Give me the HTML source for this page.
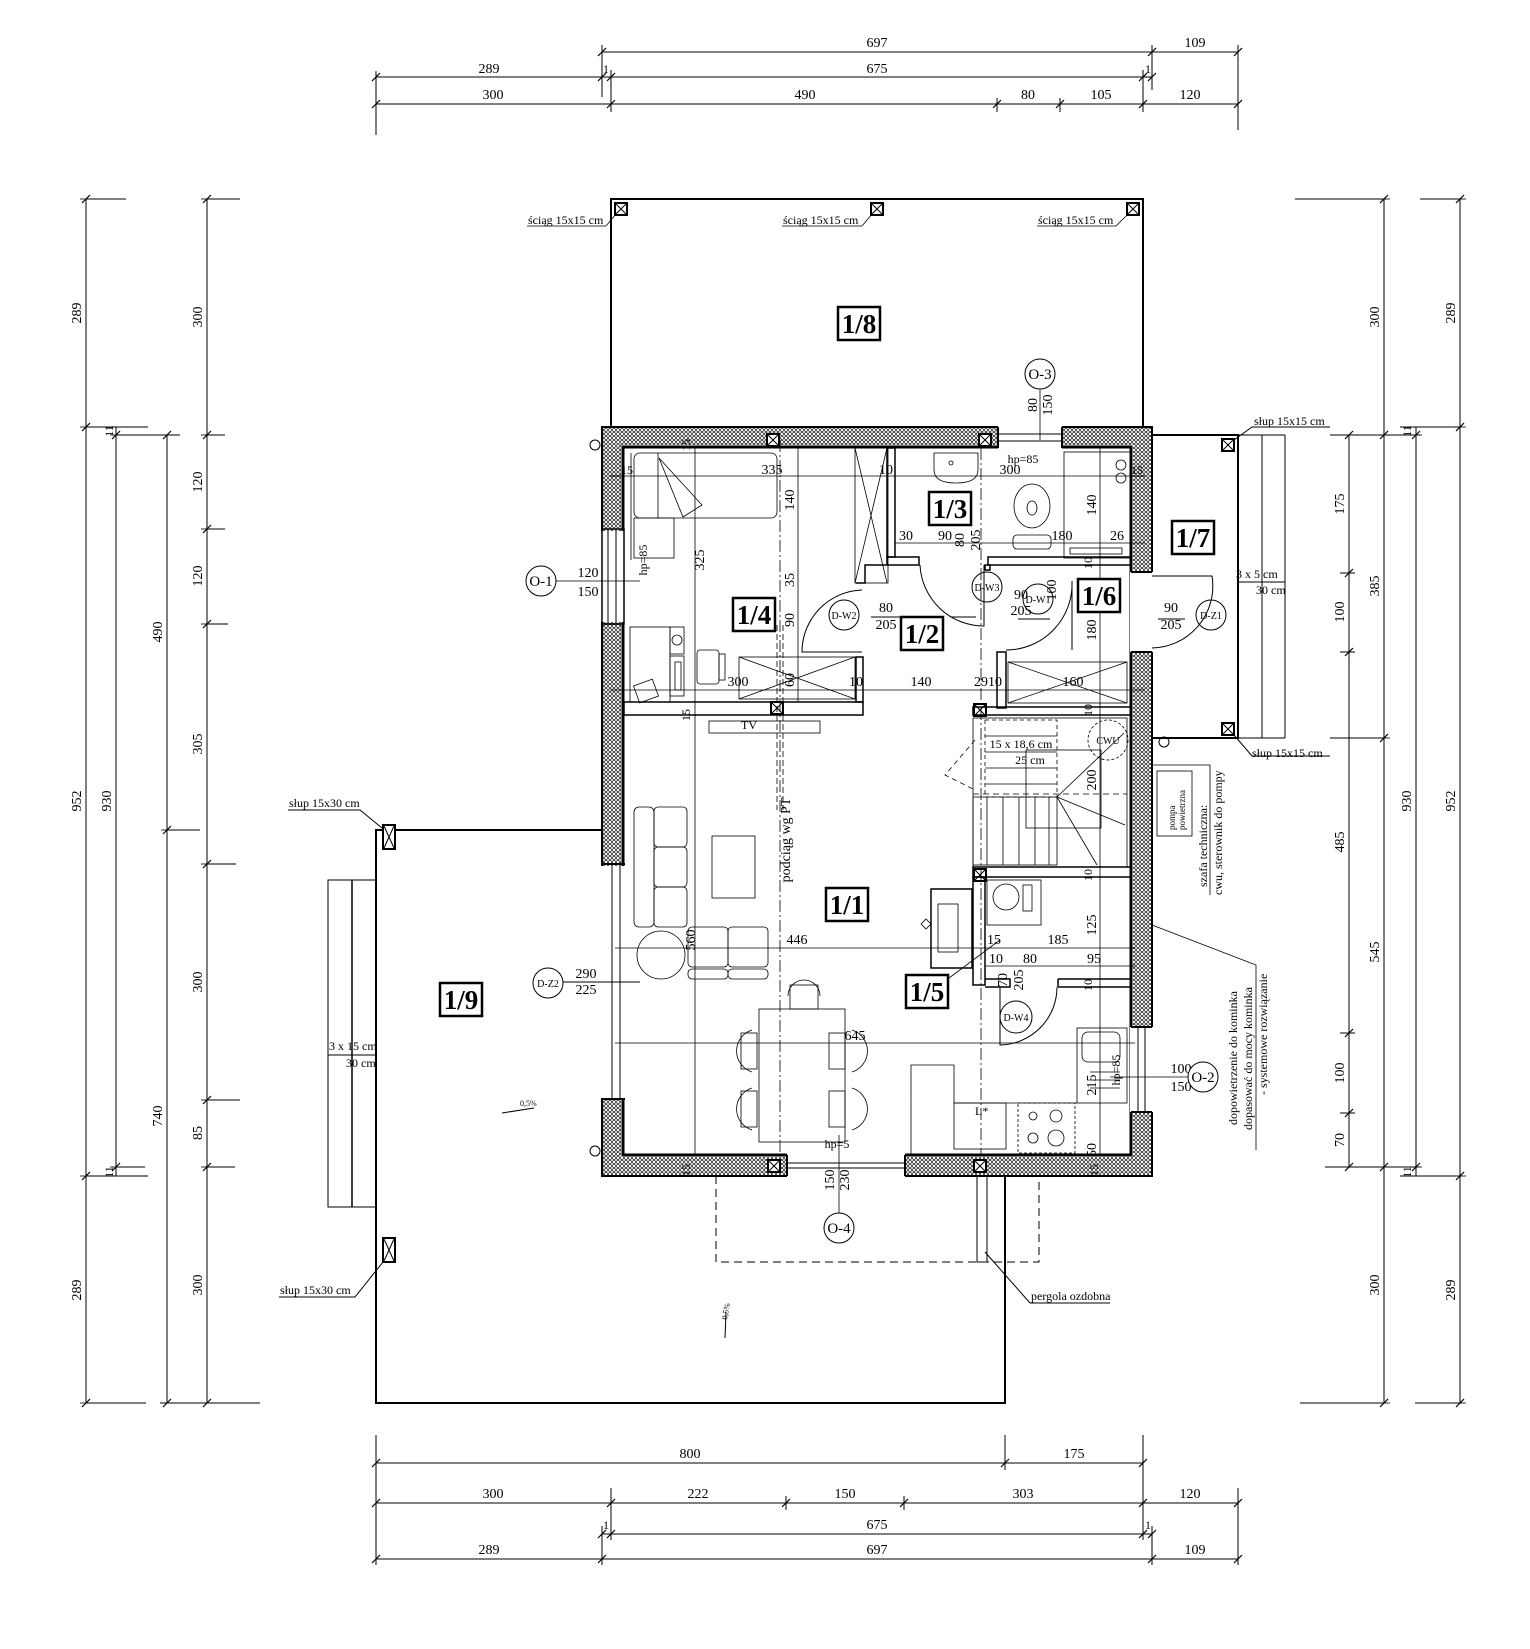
<!DOCTYPE html>
<html><head><meta charset="utf-8"><style>
html,body{margin:0;padding:0;background:#fff}
svg{display:block}
text{font-family:"Liberation Serif",serif;fill:#000}
.d{font-size:14px}
.s{font-size:12px}
.sans{font-family:"Liberation Sans",sans-serif}
.rl{font-size:27px;font-weight:bold}
</style></head><body>
<svg width="1530" height="1649" viewBox="0 0 1530 1649" xmlns="http://www.w3.org/2000/svg">
<defs>
<pattern id="h" width="4" height="4" patternUnits="userSpaceOnUse"><rect width="4" height="4" fill="#fff"/><circle cx="2" cy="2" r="1.5" fill="none" stroke="#222" stroke-width="0.7"/></pattern>
<g id="tk"><line x1="-4" y1="4" x2="4" y2="-4" stroke="#000" stroke-width="1.2"/><line x1="0" y1="-6" x2="0" y2="6" stroke="#000" stroke-width="0.8"/></g>
<g id="tv"><line x1="-4" y1="4" x2="4" y2="-4" stroke="#000" stroke-width="1.2"/><line x1="-6" y1="0" x2="6" y2="0" stroke="#000" stroke-width="0.8"/></g>
<g id="post"><rect x="-6" y="-6" width="12" height="12" fill="#fff" stroke="#000" stroke-width="2"/><line x1="-5" y1="-5" x2="5" y2="5" stroke="#000"/><line x1="5" y1="-5" x2="-5" y2="5" stroke="#000"/></g>
<g id="post2"><rect x="-6" y="-12" width="12" height="24" fill="#fff" stroke="#000" stroke-width="2"/><line x1="-5" y1="-11" x2="5" y2="11" stroke="#000"/><line x1="5" y1="-11" x2="-5" y2="11" stroke="#000"/></g>
</defs>

<g stroke="#000" stroke-width="1" fill="none">
<!-- TOP DIMENSIONS -->
<line x1="602" y1="52" x2="1238" y2="52"/>
<line x1="376" y1="77" x2="1152" y2="77"/>
<line x1="376" y1="104" x2="1238" y2="104"/>
<line x1="376" y1="72" x2="376" y2="135"/>
<line x1="602" y1="45" x2="602" y2="97"/>
<line x1="611" y1="70" x2="611" y2="112"/>
<line x1="1143" y1="70" x2="1143" y2="112"/>
<line x1="1152" y1="45" x2="1152" y2="90"/>
<line x1="1238" y1="45" x2="1238" y2="130"/>
<line x1="997" y1="98" x2="997" y2="112"/>
<line x1="1060" y1="98" x2="1060" y2="112"/>
</g>
<g>
<use href="#tk" x="602" y="52"/><use href="#tk" x="1152" y="52"/><use href="#tk" x="1238" y="52"/>
<use href="#tk" x="376" y="77"/><use href="#tk" x="602" y="77"/><use href="#tk" x="611" y="77"/><use href="#tk" x="1143" y="77"/><use href="#tk" x="1152" y="77"/>
<use href="#tk" x="376" y="104"/><use href="#tk" x="611" y="104"/><use href="#tk" x="997" y="104"/><use href="#tk" x="1060" y="104"/><use href="#tk" x="1143" y="104"/><use href="#tk" x="1238" y="104"/>
</g>
<g class="d" text-anchor="middle">
<text x="877" y="47">697</text><text x="1195" y="47">109</text>
<text x="489" y="73">289</text><text x="606" y="73" class="s">1</text><text x="877" y="73">675</text><text x="1148" y="73" class="s">1</text>
<text x="493" y="99">300</text><text x="805" y="99">490</text><text x="1028" y="99">80</text><text x="1101" y="99">105</text><text x="1190" y="99">120</text>
</g>

<!-- LEFT DIMENSIONS -->
<g stroke="#000" stroke-width="1" fill="none">
<line x1="86" y1="199" x2="86" y2="1403"/>
<line x1="116" y1="427" x2="116" y2="1176"/>
<line x1="167" y1="435" x2="167" y2="1403"/>
<line x1="207" y1="199" x2="207" y2="1403"/>
<line x1="86" y1="199" x2="126" y2="199"/><line x1="205" y1="199" x2="240" y2="199"/>
<line x1="86" y1="427" x2="148" y2="427"/><line x1="116" y1="435" x2="180" y2="435"/><line x1="205" y1="435" x2="225" y2="435"/>
<line x1="205" y1="529" x2="225" y2="529"/><line x1="205" y1="624" x2="228" y2="624"/>
<line x1="167" y1="830" x2="200" y2="830"/><line x1="205" y1="864" x2="236" y2="864"/><line x1="205" y1="1100" x2="240" y2="1100"/>
<line x1="86" y1="1176" x2="148" y2="1176"/><line x1="116" y1="1167" x2="145" y2="1167"/><line x1="205" y1="1167" x2="235" y2="1167"/>
<line x1="86" y1="1403" x2="146" y2="1403"/><line x1="160" y1="1403" x2="260" y2="1403"/>
</g>
<g>
<use href="#tv" x="86" y="199"/><use href="#tv" x="86" y="427"/><use href="#tv" x="86" y="1176"/><use href="#tv" x="86" y="1403"/>
<use href="#tv" x="116" y="435"/><use href="#tv" x="116" y="1167"/>
<use href="#tv" x="167" y="435"/><use href="#tv" x="167" y="830"/><use href="#tv" x="167" y="1403"/>
<use href="#tv" x="207" y="199"/><use href="#tv" x="207" y="435"/><use href="#tv" x="207" y="529"/><use href="#tv" x="207" y="624"/><use href="#tv" x="207" y="864"/><use href="#tv" x="207" y="1100"/><use href="#tv" x="207" y="1167"/><use href="#tv" x="207" y="1403"/>
</g>
<g class="d" text-anchor="middle">
<text transform="translate(81,313) rotate(-90)">289</text>
<text transform="translate(81,801) rotate(-90)">952</text>
<text transform="translate(81,1290) rotate(-90)">289</text>
<text transform="translate(111,801) rotate(-90)">930</text>
<text transform="translate(113,431) rotate(-90)" class="s">11</text>
<text transform="translate(113,1172) rotate(-90)" class="s">11</text>
<text transform="translate(162,632) rotate(-90)">490</text>
<text transform="translate(162,1116) rotate(-90)">740</text>
<text transform="translate(202,317) rotate(-90)">300</text>
<text transform="translate(202,482) rotate(-90)">120</text>
<text transform="translate(202,576) rotate(-90)">120</text>
<text transform="translate(202,744) rotate(-90)">305</text>
<text transform="translate(202,982) rotate(-90)">300</text>
<text transform="translate(202,1133) rotate(-90)">85</text>
<text transform="translate(202,1285) rotate(-90)">300</text>
</g>

<!-- RIGHT DIMENSIONS -->
<g stroke="#000" stroke-width="1" fill="none">
<line x1="1349" y1="435" x2="1349" y2="1167"/>
<line x1="1384" y1="199" x2="1384" y2="1403"/>
<line x1="1416" y1="427" x2="1416" y2="1176"/>
<line x1="1460" y1="199" x2="1460" y2="1403"/>
<line x1="1295" y1="199" x2="1386" y2="199"/><line x1="1420" y1="199" x2="1462" y2="199"/>
<line x1="1330" y1="435" x2="1420" y2="435"/><line x1="1400" y1="427" x2="1462" y2="427"/>
<line x1="1340" y1="573" x2="1355" y2="573"/><line x1="1340" y1="652" x2="1355" y2="652"/>
<line x1="1330" y1="738" x2="1386" y2="738"/>
<line x1="1340" y1="1033" x2="1355" y2="1033"/><line x1="1340" y1="1113" x2="1355" y2="1113"/>
<line x1="1325" y1="1167" x2="1420" y2="1167"/><line x1="1400" y1="1176" x2="1462" y2="1176"/>
<line x1="1300" y1="1403" x2="1386" y2="1403"/><line x1="1415" y1="1403" x2="1462" y2="1403"/>
</g>
<g>
<use href="#tv" x="1349" y="435"/><use href="#tv" x="1349" y="573"/><use href="#tv" x="1349" y="652"/><use href="#tv" x="1349" y="1033"/><use href="#tv" x="1349" y="1113"/><use href="#tv" x="1349" y="1167"/>
<use href="#tv" x="1384" y="199"/><use href="#tv" x="1384" y="435"/><use href="#tv" x="1384" y="738"/><use href="#tv" x="1384" y="1167"/><use href="#tv" x="1384" y="1403"/>
<use href="#tv" x="1416" y="435"/><use href="#tv" x="1416" y="1167"/>
<use href="#tv" x="1460" y="199"/><use href="#tv" x="1460" y="427"/><use href="#tv" x="1460" y="1176"/><use href="#tv" x="1460" y="1403"/>
</g>
<g class="d" text-anchor="middle">
<text transform="translate(1344,504) rotate(-90)">175</text>
<text transform="translate(1344,612) rotate(-90)">100</text>
<text transform="translate(1344,842) rotate(-90)">485</text>
<text transform="translate(1344,1073) rotate(-90)">100</text>
<text transform="translate(1344,1140) rotate(-90)">70</text>
<text transform="translate(1379,317) rotate(-90)">300</text>
<text transform="translate(1379,586) rotate(-90)">385</text>
<text transform="translate(1379,952) rotate(-90)">545</text>
<text transform="translate(1379,1285) rotate(-90)">300</text>
<text transform="translate(1411,801) rotate(-90)">930</text>
<text transform="translate(1411,431) rotate(-90)" class="s">11</text>
<text transform="translate(1411,1172) rotate(-90)" class="s">11</text>
<text transform="translate(1455,313) rotate(-90)">289</text>
<text transform="translate(1455,801) rotate(-90)">952</text>
<text transform="translate(1455,1290) rotate(-90)">289</text>
</g>

<!-- BOTTOM DIMENSIONS -->
<g stroke="#000" stroke-width="1" fill="none">
<line x1="376" y1="1463" x2="1143" y2="1463"/>
<line x1="376" y1="1503" x2="1238" y2="1503"/>
<line x1="602" y1="1534" x2="1152" y2="1534"/>
<line x1="376" y1="1559" x2="1238" y2="1559"/>
<line x1="376" y1="1435" x2="376" y2="1565"/>
<line x1="1005" y1="1435" x2="1005" y2="1470"/>
<line x1="1143" y1="1435" x2="1143" y2="1540"/>
<line x1="611" y1="1488" x2="611" y2="1540"/>
<line x1="602" y1="1526" x2="602" y2="1565"/>
<line x1="1152" y1="1526" x2="1152" y2="1565"/>
<line x1="1238" y1="1488" x2="1238" y2="1565"/>
<line x1="786" y1="1496" x2="786" y2="1510"/>
<line x1="904" y1="1496" x2="904" y2="1510"/>
</g>
<g>
<use href="#tk" x="376" y="1463"/><use href="#tk" x="1005" y="1463"/><use href="#tk" x="1143" y="1463"/>
<use href="#tk" x="376" y="1503"/><use href="#tk" x="611" y="1503"/><use href="#tk" x="786" y="1503"/><use href="#tk" x="904" y="1503"/><use href="#tk" x="1143" y="1503"/><use href="#tk" x="1238" y="1503"/>
<use href="#tk" x="602" y="1534"/><use href="#tk" x="611" y="1534"/><use href="#tk" x="1143" y="1534"/><use href="#tk" x="1152" y="1534"/>
<use href="#tk" x="376" y="1559"/><use href="#tk" x="602" y="1559"/><use href="#tk" x="1152" y="1559"/><use href="#tk" x="1238" y="1559"/>
</g>
<g class="d" text-anchor="middle">
<text x="690" y="1458">800</text><text x="1074" y="1458">175</text>
<text x="493" y="1498">300</text><text x="698" y="1498">222</text><text x="845" y="1498">150</text><text x="1023" y="1498">303</text><text x="1190" y="1498">120</text>
<text x="606" y="1529" class="s">1</text><text x="877" y="1529">675</text><text x="1148" y="1529" class="s">1</text>
<text x="489" y="1554">289</text><text x="877" y="1554">697</text><text x="1195" y="1554">109</text>
</g>

<!-- TERRACE 1/8 -->
<rect x="611" y="199" width="532" height="228" fill="none" stroke="#000" stroke-width="2"/>
<use href="#post" x="621" y="209"/><use href="#post" x="877" y="209"/><use href="#post" x="1133" y="209"/>
<g stroke="#000" stroke-width="0.8" fill="none">
<polyline points="527,226 606,226 616,214"/>
<polyline points="782,226 862,226 872,214"/>
<polyline points="1037,226 1116,226 1128,214"/>
</g>
<g class="s"><text x="528" y="224">ściąg 15x15 cm</text><text x="783" y="224">ściąg 15x15 cm</text><text x="1038" y="224">ściąg 15x15 cm</text></g>

<!-- TERRACE 1/9 -->
<path d="M602 830 L376 830 L376 1403 L1005 1403 L1005 1176" fill="none" stroke="#000" stroke-width="2"/>
<use href="#post2" x="389" y="837"/><use href="#post2" x="389" y="1250"/>
<g stroke="#000" fill="none" stroke-width="1">
<rect x="328" y="880" width="48" height="327"/><line x1="352" y1="880" x2="352" y2="1207" stroke-width="1.5"/>
<line x1="328" y1="1055" x2="376" y2="1055"/>
<polyline points="288,810 360,810 382,828"/>
<polyline points="279,1297 355,1297 383,1262"/>
</g>
<g class="s"><text x="289" y="807">słup 15x30 cm</text><text x="280" y="1294">słup 15x30 cm</text>
<text x="329" y="1050">3 x  15 cm</text><text x="346" y="1067">30 cm</text></g>
<text x="520" y="1106" font-size="8">0,5%</text><line x1="502" y1="1113" x2="534" y2="1108" stroke="#000"/>
<text transform="translate(727,1320) rotate(-80)" font-size="8">0,5%</text><line x1="725" y1="1338" x2="726" y2="1312" stroke="#000"/>

<!-- TERRACE 1/7 -->
<g stroke="#000" fill="none">
<rect x="1152" y="435" width="86" height="303" stroke-width="2"/>
<line x1="1238" y1="435" x2="1285" y2="435"/><line x1="1238" y1="738" x2="1285" y2="738"/>
<line x1="1262" y1="435" x2="1262" y2="738"/><line x1="1285" y1="435" x2="1285" y2="738"/>
<line x1="1238" y1="582" x2="1285" y2="582"/>
<polyline points="1234,440 1252,427 1330,427"/>
<polyline points="1234,735 1252,756 1330,756"/>
</g>
<use href="#post" x="1228" y="445"/><use href="#post" x="1228" y="729"/>
<g class="s"><text x="1254" y="425">słup 15x15 cm</text><text x="1252" y="757">słup 15x15 cm</text>
<text x="1236" y="578">3 x  5 cm</text><text x="1256" y="594">30 cm</text></g>

<!-- PERGOLA -->
<g stroke="#000" fill="none">
<path d="M716 1176 L716 1262 L1039 1262 L1039 1176" stroke-dasharray="8 5"/>
<rect x="977" y="1176" width="10" height="86"/>
<polyline points="985,1252 1030,1303 1110,1303"/>
</g>
<text x="1031" y="1300" class="s">pergola ozdobna</text>

<!-- WALLS -->
<path d="M602 427 H1152 V1176 H602 Z M621 445 V1157 H1133 V445 Z" fill="url(#h)" fill-rule="evenodd"/>
<rect x="602" y="427" width="550" height="749" fill="none" stroke="#000" stroke-width="2"/>
<rect x="623" y="447" width="508" height="708" fill="none" stroke="#000" stroke-width="3"/>
<!-- openings -->
<g fill="#fff">
<rect x="600" y="531" width="26" height="91"/>
<rect x="600" y="866" width="26" height="232"/>
<rect x="998" y="425" width="64" height="24"/>
<rect x="1130" y="572" width="25" height="80"/>
<rect x="1130" y="1027" width="25" height="85"/>
<rect x="787" y="1153" width="118" height="25"/>
</g>
<g stroke="#000" fill="none" stroke-width="1">
<line x1="608" y1="531" x2="608" y2="622"/><line x1="616" y1="531" x2="616" y2="622"/>
<rect x="602" y="529" width="22" height="95" stroke-width="1.5"/>
<line x1="612" y1="866" x2="612" y2="1098"/><line x1="620" y1="866" x2="620" y2="1098"/>
<line x1="602" y1="864" x2="625" y2="864" stroke-width="2"/><line x1="602" y1="1099" x2="625" y2="1099" stroke-width="2"/>
<line x1="998" y1="434" x2="1062" y2="434"/><line x1="998" y1="441" x2="1062" y2="441"/>
<line x1="998" y1="427" x2="998" y2="448" stroke-width="2"/><line x1="1062" y1="427" x2="1062" y2="448" stroke-width="2"/>
<line x1="1131" y1="572" x2="1152" y2="572" stroke-width="2"/><line x1="1131" y1="652" x2="1152" y2="652" stroke-width="2"/>
<line x1="1138" y1="1027" x2="1138" y2="1112"/><line x1="1145" y1="1027" x2="1145" y2="1112"/>
<line x1="1131" y1="1027" x2="1152" y2="1027" stroke-width="2"/><line x1="1131" y1="1112" x2="1152" y2="1112" stroke-width="2"/>
<line x1="787" y1="1163" x2="905" y2="1163"/><line x1="787" y1="1168" x2="905" y2="1168"/>
<line x1="787" y1="1155" x2="787" y2="1176" stroke-width="2"/><line x1="905" y1="1155" x2="905" y2="1176" stroke-width="2"/>
</g>
<use href="#post" x="773" y="440"/><use href="#post" x="985" y="440"/><use href="#post" x="774" y="1166"/><use href="#post" x="980" y="1166"/>
<use href="#post" x="980" y="710"/><use href="#post" x="980" y="875"/><use href="#post" x="777" y="708"/>

<!-- INTERIOR WALLS -->
<g stroke="#000" fill="none" stroke-width="1.5">
<rect x="624" y="702" width="239" height="13"/>
<rect x="856" y="657" width="7" height="45"/>
<rect x="887" y="448" width="8" height="109"/>
<path d="M856 583 H865 V565 H887 V557 H919 V565 H887"/>
<rect x="988" y="557" width="143" height="8"/>
<rect x="985" y="565" width="5" height="5"/>
<rect x="997" y="652" width="9" height="56"/>
<rect x="973" y="707" width="158" height="8"/>
<rect x="973" y="867" width="158" height="10"/>
<rect x="973" y="877" width="12" height="108"/>
<path d="M985 979 H1010 V987 H985 M1058 979 H1131 M1058 987 H1131 M1058 979 V987"/>
</g>
<!-- doors -->
<g stroke="#000" fill="none" stroke-width="1">
<path d="M862 590 A62 62 0 0 0 802 652 L862 652"/>
<path d="M920 565 A64 64 0 0 0 984 626 L984 565"/>
<path d="M1006 650 A66 66 0 0 0 1072 581 L1072 650"/>
<path d="M1152 576 L1212 576 A62 62 0 0 1 1152 648"/>
<path d="M1057 987 A58 58 0 0 1 1000 1045 L1000 987"/>
<circle cx="844" cy="615" r="15"/><circle cx="987" cy="587" r="15"/><circle cx="1038" cy="599" r="15"/>
<circle cx="1211" cy="615" r="15"/><circle cx="548" cy="983" r="15"/><circle cx="1016" cy="1017" r="16"/>
<line x1="871" y1="617" x2="900" y2="617"/><line x1="950" y1="617" x2="976" y2="617"/>
<line x1="1018" y1="619" x2="1050" y2="619"/><line x1="1158" y1="619" x2="1185" y2="619"/>
<line x1="563" y1="982" x2="640" y2="982"/>
</g>
<g class="sans" font-size="10" text-anchor="middle">
<text x="844" y="619">D-W2</text><text x="987" y="591">D-W3</text><text x="1038" y="603">D-W1</text>
<text x="1211" y="619">D-Z1</text><text x="548" y="987">D-Z2</text><text x="1016" y="1021">D-W4</text>
</g>
<g class="d" text-anchor="middle">
<text x="886" y="612">80</text><text x="886" y="629">205</text>
<text x="1021" y="599">90</text><text x="1021" y="615">205</text>
<text x="1171" y="612">90</text><text x="1171" y="629">205</text>
<text x="586" y="978">290</text><text x="586" y="994">225</text>
<text transform="translate(964,540) rotate(-90)">80</text><text transform="translate(980,540) rotate(-90)">205</text>
<text transform="translate(1007,980) rotate(-90)">70</text><text transform="translate(1023,980) rotate(-90)">205</text>
<text transform="translate(1056,590) rotate(-90)">100</text>
</g>

<!-- furniture 1/4 -->
<g stroke="#000" fill="none" stroke-width="0.8">
<rect x="634" y="453" width="143" height="65" rx="6"/>
<line x1="658" y1="453" x2="658" y2="518"/>
<path d="M659 458 L702 505 L683 517 Z"/>
<rect x="634" y="518" width="40" height="40"/>
<line x1="631" y1="453" x2="631" y2="560"/>
<rect x="630" y="627" width="40" height="75"/><rect x="670" y="627" width="14" height="27"/><rect x="670" y="656" width="14" height="40"/>
<circle cx="677" cy="640" r="5"/><rect x="675" y="662" width="6" height="28"/>
<rect x="697" y="650" width="22" height="34" rx="3"/><rect x="719" y="654" width="6" height="26"/>
<rect x="636" y="682" width="20" height="18" transform="rotate(-20 646 691)"/>
<rect x="739" y="657" width="116" height="42"/><line x1="739" y1="657" x2="855" y2="699"/><line x1="855" y1="657" x2="739" y2="699"/>
<rect x="855" y="448" width="33" height="135"/><line x1="855" y1="448" x2="887" y2="583"/><line x1="887" y1="448" x2="855" y2="583"/>
<rect x="709" y="721" width="111" height="12"/>
<!-- 1/3 -->
<path d="M934 453 H978 V470 Q978 483 956 483 Q934 483 934 470 Z"/><circle cx="951" cy="463" r="2"/>
<ellipse cx="1032" cy="506" rx="18" ry="22"/><ellipse cx="1032" cy="508" rx="5" ry="7"/><rect x="1013" y="535" width="38" height="14" rx="4"/>
<rect x="1064" y="452" width="66" height="106"/><rect x="1070" y="548" width="52" height="6"/>
<circle cx="1121" cy="465" r="5"/><circle cx="1121" cy="478" r="5"/>
<!-- 1/6 laundry -->
<rect x="1008" y="662" width="119" height="41"/><line x1="1008" y1="662" x2="1127" y2="703"/><line x1="1127" y1="662" x2="1008" y2="703"/>
<!-- stairs -->
<rect x="973" y="718" width="154" height="149"/>
<rect x="985" y="720" width="72" height="77" stroke-dasharray="4 3"/>
<line x1="985" y1="736" x2="1057" y2="736"/><line x1="985" y1="752" x2="1057" y2="752"/><line x1="985" y1="768" x2="1057" y2="768"/><line x1="985" y1="784" x2="1057" y2="784"/>
<rect x="973" y="797" width="84" height="68"/>
<line x1="987" y1="797" x2="987" y2="865"/><line x1="1003" y1="797" x2="1003" y2="865"/><line x1="1019" y1="797" x2="1019" y2="865"/><line x1="1035" y1="797" x2="1035" y2="865"/><line x1="1049" y1="797" x2="1049" y2="865"/>
<line x1="1057" y1="797" x2="1124" y2="733"/><line x1="1057" y1="797" x2="1125" y2="825"/><line x1="1057" y1="797" x2="1097" y2="865"/>
<line x1="973" y1="794" x2="1127" y2="794" stroke-dasharray="6 4"/>
<circle cx="1108" cy="740" r="20" stroke-dasharray="3 2"/>
<path d="M975 740 L945 775 L975 790" stroke-dasharray="5 4"/>
<rect x="1026" y="750" width="75" height="78"/>
<!-- washer + fireplace -->
<rect x="987" y="880" width="54" height="45"/><circle cx="1006" cy="897" r="13"/><rect x="1023" y="885" width="9" height="26"/>
<rect x="931" y="889" width="41" height="79" stroke-width="1.5"/><rect x="938" y="904" width="20" height="48"/>
<path d="M921 924 L926 919 L931 924 L926 929 Z"/>
<!-- living -->
<rect x="634" y="807" width="20" height="120" rx="5"/>
<rect x="654" y="807" width="33" height="40" rx="4"/><rect x="654" y="847" width="33" height="40" rx="4"/><rect x="654" y="887" width="33" height="40" rx="4"/>
<rect x="688" y="927" width="40" height="40" rx="4"/><rect x="728" y="927" width="40" height="40" rx="4"/>
<rect x="688" y="969" width="40" height="10" rx="4"/><rect x="728" y="969" width="40" height="10" rx="4"/>
<rect x="712" y="836" width="43" height="62"/>
<circle cx="661" cy="955" r="24"/>
<rect x="759" y="1009" width="86" height="133"/>
<rect x="790" y="985" width="28" height="24"/><path d="M788 996 A16 16 0 0 1 820 996"/>
<path d="M752 1030 A22 22 0 0 0 752 1072 M752 1088 A22 22 0 0 0 752 1130 M852 1030 A22 22 0 0 1 852 1072 M852 1088 A22 22 0 0 1 852 1130"/>
<rect x="741" y="1033" width="16" height="36"/><rect x="741" y="1091" width="16" height="36"/><rect x="829" y="1033" width="16" height="36"/><rect x="829" y="1091" width="16" height="36"/>
<!-- kitchen -->
<path d="M911 1155 V1065 H954 V1103 H1077"/>
<rect x="954" y="1103" width="52" height="46"/>
<rect x="1018" y="1103" width="57" height="50" stroke-dasharray="3 2"/>
<circle cx="1033" cy="1116" r="4"/><circle cx="1033" cy="1138" r="5"/><circle cx="1056" cy="1116" r="6"/><circle cx="1056" cy="1138" r="8"/>
<rect x="1077" y="1028" width="50" height="75"/><rect x="1082" y="1032" width="38" height="30" rx="6"/>
<line x1="1090" y1="1072" x2="1120" y2="1072"/><line x1="1090" y1="1080" x2="1120" y2="1080"/><line x1="1090" y1="1088" x2="1120" y2="1088"/>
<!-- pompa -->
<rect x="1157" y="771" width="35" height="65"/>
</g>
<text class="s" x="975" y="1115">L*</text>
<text class="s" x="741" y="729">TV</text>
<g font-size="9"><text transform="translate(1175,830) rotate(-90)">pompa</text><text transform="translate(1185,830) rotate(-90)">powietrzna</text></g>
<g class="s">
<text transform="translate(1207,887) rotate(-90)">szafa techniczna:</text>
<text transform="translate(1222,895) rotate(-90)">cwu, sterownik do pompy</text>
<text transform="translate(1237,1125) rotate(-90)">dopowietrzenie do kominka</text>
<text transform="translate(1252,1130) rotate(-90)">dopasować do mocy kominka</text>
<text transform="translate(1267,1095) rotate(-90)">- systemowe rozwiązanie</text>
</g>
<g stroke="#000" fill="none" stroke-width="0.8">
<polyline points="1152,765 1210,765 1210,895"/>
<polyline points="1152,925 1256,965 1256,1150"/>
</g>

<!-- interior dimension lines -->
<g stroke="#000" fill="none" stroke-width="0.8">
<line x1="610" y1="476" x2="1145" y2="476"/>
<line x1="895" y1="543" x2="1145" y2="543"/>
<line x1="610" y1="690" x2="1145" y2="690"/>
<line x1="615" y1="948" x2="1135" y2="948"/>
<line x1="985" y1="966" x2="1135" y2="966"/>
<line x1="615" y1="1043" x2="1135" y2="1043"/>
<line x1="695" y1="448" x2="695" y2="1155"/>
<line x1="798" y1="448" x2="798" y2="702"/>
<line x1="1100" y1="448" x2="1100" y2="1155"/>
<line x1="981" y1="448" x2="981" y2="1155" stroke-dasharray="12 3 2 3"/>
<line x1="777" y1="625" x2="777" y2="810" stroke-dasharray="6 3"/>
<line x1="783" y1="625" x2="783" y2="810" stroke-dasharray="6 3"/>
<line x1="780" y1="440" x2="780" y2="1155" stroke-dasharray="12 3 2 3"/>
<line x1="1040" y1="360" x2="1040" y2="440"/>
<line x1="555" y1="581" x2="640" y2="581"/>
<line x1="1218" y1="1077" x2="1110" y2="1077"/>
<line x1="839" y1="1213" x2="839" y2="1135"/>
<line x1="937" y1="987" x2="1000" y2="940"/>
</g>
<g class="d" text-anchor="middle">
<text x="627" y="474" class="s">15</text><text x="772" y="474">335</text><text x="886" y="474">10</text><text x="1010" y="474">300</text><text x="1137" y="474" class="s">15</text>
<text x="1023" y="463" class="s">hp=85</text>
<text x="906" y="540">30</text><text x="945" y="540">90</text><text x="1062" y="540">180</text><text x="1117" y="540">26</text>
<text x="738" y="686">300</text><text x="856" y="686">10</text><text x="921" y="686">140</text><text x="988" y="686">2910</text><text x="1073" y="686">160</text>
<text x="797" y="944">446</text><text x="994" y="944">15</text><text x="1058" y="944">185</text>
<text x="996" y="963">10</text><text x="1030" y="963">80</text><text x="1094" y="963">95</text>
<text x="855" y="1040">645</text><text x="837" y="1148" class="s">hp=5</text>
<text transform="translate(704,560) rotate(-90)">325</text>
<text transform="translate(794,500) rotate(-90)">140</text>
<text transform="translate(794,580) rotate(-90)">35</text>
<text transform="translate(794,620) rotate(-90)">90</text>
<text transform="translate(794,680) rotate(-90)">60</text>
<text transform="translate(1096,505) rotate(-90)">140</text>
<text transform="translate(1096,630) rotate(-90)">180</text>
<text transform="translate(1096,780) rotate(-90)">200</text>
<text transform="translate(1096,925) rotate(-90)">125</text>
<text transform="translate(1096,1085) rotate(-90)">215</text>
<text transform="translate(1096,1150) rotate(-90)">50</text>
<text transform="translate(1092,875) rotate(-90)" class="s">10</text>
<text transform="translate(1092,985) rotate(-90)" class="s">10</text>
<text transform="translate(1092,710) rotate(-90)" class="s">10</text>
<text transform="translate(1092,563) rotate(-90)" class="s">10</text>
<text transform="translate(695,940) rotate(-90)">560</text>
<text transform="translate(690,715) rotate(-90)" class="s">15</text>
<text transform="translate(690,1170) rotate(-90)" class="s">15</text>
<text transform="translate(1098,1170) rotate(-90)" class="s">15</text>
<text transform="translate(690,445) rotate(-90)" class="s">15</text>
<text transform="translate(790,840) rotate(-90)">podciąg wg PT</text>
<text transform="translate(647,560) rotate(-90)" class="s">hp=85</text>
<text transform="translate(1120,1070) rotate(-90)" class="s">hp=85</text>
<text transform="translate(1037,405) rotate(-90)">80</text><text transform="translate(1052,405) rotate(-90)">150</text>
<text transform="translate(834,1180) rotate(-90)">150</text><text transform="translate(849,1180) rotate(-90)">230</text>
<text x="588" y="577">120</text><text x="588" y="596">150</text>
<text x="1181" y="1073">100</text><text x="1181" y="1091">150</text>
<text x="1021" y="748" class="s">15 x 18,6 cm</text><text x="1030" y="764" class="s">25 cm</text>
<text x="1108" y="744" font-size="10">CWU</text>
</g>

<!-- section markers -->
<g stroke="#000" fill="#fff" stroke-width="1">
<circle cx="541" cy="581" r="15"/><circle cx="1040" cy="374" r="15"/><circle cx="1203" cy="1077" r="15"/><circle cx="839" cy="1228" r="15"/>
<circle cx="595" cy="445" r="5" fill="none"/><circle cx="595" cy="1151" r="5" fill="none"/><circle cx="1164" cy="742" r="5" fill="none"/>
</g>
<g class="sans" font-size="15" text-anchor="middle">
<text x="541" y="586">O-1</text><text x="1040" y="379">O-3</text><text x="1203" y="1082">O-2</text><text x="839" y="1233">O-4</text>
</g>

<!-- room labels -->
<g stroke="#000" stroke-width="2.5" fill="#fff">
<rect x="838" y="307" width="42" height="33"/>
<rect x="733" y="598" width="42" height="33"/>
<rect x="901" y="617" width="42" height="33"/>
<rect x="929" y="492" width="42" height="33"/>
<rect x="1078" y="579" width="42" height="33"/>
<rect x="1172" y="521" width="42" height="33"/>
<rect x="826" y="888" width="42" height="33"/>
<rect x="906" y="975" width="42" height="33"/>
<rect x="440" y="983" width="42" height="33"/>
</g>
<g class="rl" text-anchor="middle">
<text x="859" y="333">1/8</text><text x="754" y="624">1/4</text><text x="922" y="643">1/2</text>
<text x="950" y="518">1/3</text><text x="1099" y="605">1/6</text><text x="1193" y="547">1/7</text>
<text x="847" y="914">1/1</text><text x="927" y="1001">1/5</text><text x="461" y="1009">1/9</text>
</g>
</svg>
</body></html>
